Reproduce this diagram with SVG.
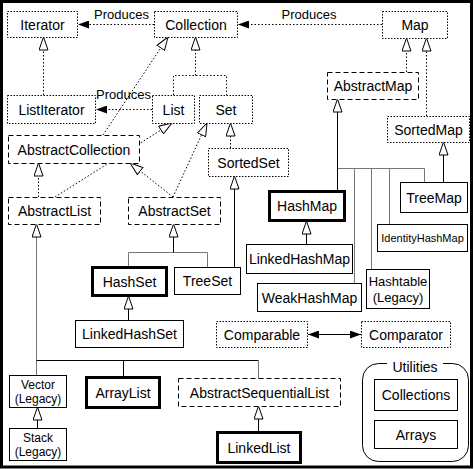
<svg xmlns="http://www.w3.org/2000/svg" width="474" height="469" viewBox="0 0 474 469">
<defs>
<style>
text { font-family: "Liberation Sans", Arial, sans-serif; font-size: 14px; fill: #000; text-anchor: middle; dominant-baseline: central; }
.lbl { font-size: 13px; }
.s12 { font-size: 12px; }
.s11 { font-size: 11px; }
.iface { fill: #fff; stroke: #000; stroke-width: 1; stroke-dasharray: 1.5 1.5; }
.abs { fill: #fff; stroke: #000; stroke-width: 1; stroke-dasharray: 5 3; }
.cls { fill: #fff; stroke: #000; stroke-width: 1; }
.main { fill: #fff; stroke: #000; stroke-width: 3; }
.dot { fill: none; stroke: #000; stroke-width: 1; stroke-dasharray: 1.5 2; }
.solid { fill: none; stroke: #000; stroke-width: 1; }
.gray { fill: none; stroke: #777; stroke-width: 1; }
</style>
<marker id="tri" viewBox="0 0 14 10" refX="13.5" refY="5" markerUnits="userSpaceOnUse" markerWidth="14" markerHeight="10" orient="auto">
<path d="M13.5,5 L0.5,0.5 L0.5,9.5 Z" fill="#fff" stroke="#000" stroke-width="1"/>
</marker>
<marker id="arr" viewBox="0 0 11 8" refX="11" refY="4" markerUnits="userSpaceOnUse" markerWidth="11" markerHeight="8" orient="auto-start-reverse">
<path d="M11,4 L0,0 L0,8 Z" fill="#000"/>
</marker>
</defs>
<rect width="474" height="469" fill="#fff"/>
<rect x="1.5" y="1.5" width="470" height="465.5" fill="none" stroke="#000" stroke-width="3"/>

<g id="connectors">
<path class="dot" d="M154,24.5 H78" marker-end="url(#arr)"/>
<text class="lbl" x="121.5" y="14.5">Produces</text>
<path class="dot" d="M382,24.5 H238" marker-end="url(#arr)"/>
<text class="lbl" x="309" y="14.5">Produces</text>
<path class="dot" d="M152,109.5 H96" marker-end="url(#arr)"/>
<text class="lbl" x="123.5" y="94">Produces</text>

<path class="dot" d="M43.5,95 V37" marker-end="url(#tri)"/>
<path class="dot" d="M173.5,95 V75.5 H226.5 V95 M195.5,75.5 V37" marker-end="url(#tri)"/>
<path class="dot" d="M103,135 L168,37" marker-end="url(#tri)"/>
<path class="dot" d="M55,197 L172,123" marker-end="url(#tri)"/>
<path class="dot" d="M38.5,197 V163" marker-end="url(#tri)"/>
<path class="dot" d="M173,197 L130,163" marker-end="url(#tri)"/>
<path class="dot" d="M173,197 L207,123" marker-end="url(#tri)"/>
<path class="dot" d="M230.5,148 V123" marker-end="url(#tri)"/>
<path class="dot" d="M406.5,72 V38" marker-end="url(#tri)"/>
<path class="dot" d="M426.5,116 V38" marker-end="url(#tri)"/>

<path class="gray" d="M337.5,168.5 H424.5 V182 M354.5,168.5 V283 M371.5,168.5 V269 M389.5,168.5 V224"/>
<path class="solid" d="M337.5,191 V99" marker-end="url(#tri)"/>
<path class="solid" d="M443.5,182 V142" marker-end="url(#tri)"/>
<path class="solid" d="M306.5,244 V221" marker-end="url(#tri)"/>

<path class="gray" d="M128.5,267 V252.5 H207.5 V267"/>
<path class="solid" d="M173.5,252.5 V224" marker-end="url(#tri)"/>
<path class="solid" d="M234.5,267 V176" marker-end="url(#tri)"/>
<path class="solid" d="M128.5,320 V296" marker-end="url(#tri)"/>

<path class="gray" d="M36.5,375 V224" marker-end="url(#tri)"/>
<path class="solid" d="M36.5,360.5 H258.5 M123.5,360.5 V377"/>
<path class="gray" d="M258.5,360.5 V378"/>
<path class="solid" d="M37.5,428 V407" marker-end="url(#tri)"/>
<path class="solid" d="M258.5,432 V406" marker-end="url(#tri)"/>

<path class="solid" d="M308,334.5 H361" marker-start="url(#arr)" marker-end="url(#arr)"/>
</g>

<g id="Iterator"><rect class="iface" x="7.5" y="11.5" width="70" height="26"/><text x="42.5" y="24.5">Iterator</text></g>
<g id="Collection"><rect class="iface" x="154.5" y="11.5" width="83" height="26"/><text x="196" y="24.5">Collection</text></g>
<g id="Map"><rect class="iface" x="382.5" y="11.5" width="65" height="27"/><text x="415" y="25">Map</text></g>
<g id="ListIterator"><rect class="iface" x="7.5" y="95.5" width="88" height="28"/><text x="51.5" y="109.5">ListIterator</text></g>
<g id="List"><rect class="iface" x="152.5" y="95.5" width="42" height="28"/><text x="173.5" y="109.5">List</text></g>
<g id="Set"><rect class="iface" x="199.5" y="95.5" width="53" height="28"/><text x="226" y="109.5">Set</text></g>
<g id="AbstractCollection"><rect class="abs" x="8.5" y="135.5" width="131" height="28"/><text x="74" y="149.5">AbstractCollection</text></g>
<g id="AbstractMap"><rect class="abs" x="327.5" y="72.5" width="91" height="27"/><text x="373" y="86">AbstractMap</text></g>
<g id="SortedMap"><rect class="iface" x="387.5" y="116.5" width="82" height="26"/><text x="428.5" y="129.5">SortedMap</text></g>
<g id="SortedSet"><rect class="iface" x="208.5" y="148.5" width="80" height="28"/><text x="248.5" y="162.5">SortedSet</text></g>
<g id="AbstractList"><rect class="abs" x="8.5" y="197.5" width="92" height="27"/><text x="54.5" y="211">AbstractList</text></g>
<g id="AbstractSet"><rect class="abs" x="128.5" y="197.5" width="92" height="27"/><text x="174.5" y="211">AbstractSet</text></g>
<g id="HashMap"><rect class="main" x="269.5" y="191.5" width="75" height="29"/><text x="307" y="206">HashMap</text></g>
<g id="TreeMap"><rect class="cls" x="400.5" y="182.5" width="67" height="30"/><text x="434" y="197.5">TreeMap</text></g>
<g id="IdentityHashMap"><rect class="cls" x="377.5" y="224.5" width="90" height="27"/><text class="s11" x="422.5" y="238">IdentityHashMap</text></g>
<g id="LinkedHashMap"><rect class="cls" x="246.5" y="244.5" width="106" height="29"/><text x="299.5" y="259">LinkedHashMap</text></g>
<g id="WeakHashMap"><rect class="cls" x="257.5" y="283.5" width="104" height="28"/><text x="309.5" y="297.5">WeakHashMap</text></g>
<g id="Hashtable"><rect class="cls" x="366.5" y="269.5" width="63" height="39"/><text class="lbl" x="398" y="281">Hashtable</text><text class="lbl" x="398" y="297">(Legacy)</text></g>
<g id="HashSet"><rect class="main" x="92.5" y="267.5" width="74" height="28"/><text x="129.5" y="281.5">HashSet</text></g>
<g id="TreeSet"><rect class="cls" x="174.5" y="267.5" width="66" height="27"/><text x="207.5" y="281">TreeSet</text></g>
<g id="LinkedHashSet"><rect class="cls" x="75.5" y="320.5" width="108" height="27"/><text x="129.5" y="334">LinkedHashSet</text></g>
<g id="Comparable"><rect class="iface" x="216.5" y="321.5" width="91" height="26"/><text x="262" y="334.5">Comparable</text></g>
<g id="Comparator"><rect class="iface" x="361.5" y="321.5" width="89" height="26"/><text x="406" y="334.5">Comparator</text></g>
<g id="Vector"><rect class="cls" x="9.5" y="375.5" width="57" height="32"/><text class="s12" x="38" y="384.5">Vector</text><text class="s12" x="38" y="399">(Legacy)</text></g>
<g id="ArrayList"><rect class="main" x="86.5" y="377.5" width="73" height="30"/><text x="123" y="392.5">ArrayList</text></g>
<g id="AbstractSequentialList"><rect class="abs" x="178.5" y="378.5" width="162" height="28"/><text x="259.5" y="392.5">AbstractSequentialList</text></g>
<g id="Stack"><rect class="cls" x="9.5" y="428.5" width="57" height="32"/><text class="s12" x="38" y="437.5">Stack</text><text class="s12" x="38" y="452">(Legacy)</text></g>
<g id="LinkedList"><rect class="main" x="217.5" y="432.5" width="83" height="30"/><text x="259" y="447.5">LinkedList</text></g>
<g id="Utilities">
<rect class="cls" x="362.5" y="363.5" width="106" height="98" rx="16" ry="16"/>
<rect x="387" y="358" width="56" height="16" fill="#fff"/>
<text x="415" y="367">Utilities</text>
</g>
<g id="Collections"><rect class="cls" x="374.5" y="379.5" width="83" height="31"/><text x="416" y="395">Collections</text></g>
<g id="Arrays"><rect class="cls" x="374.5" y="420.5" width="83" height="28"/><text x="416" y="434.5">Arrays</text></g>
</svg>
